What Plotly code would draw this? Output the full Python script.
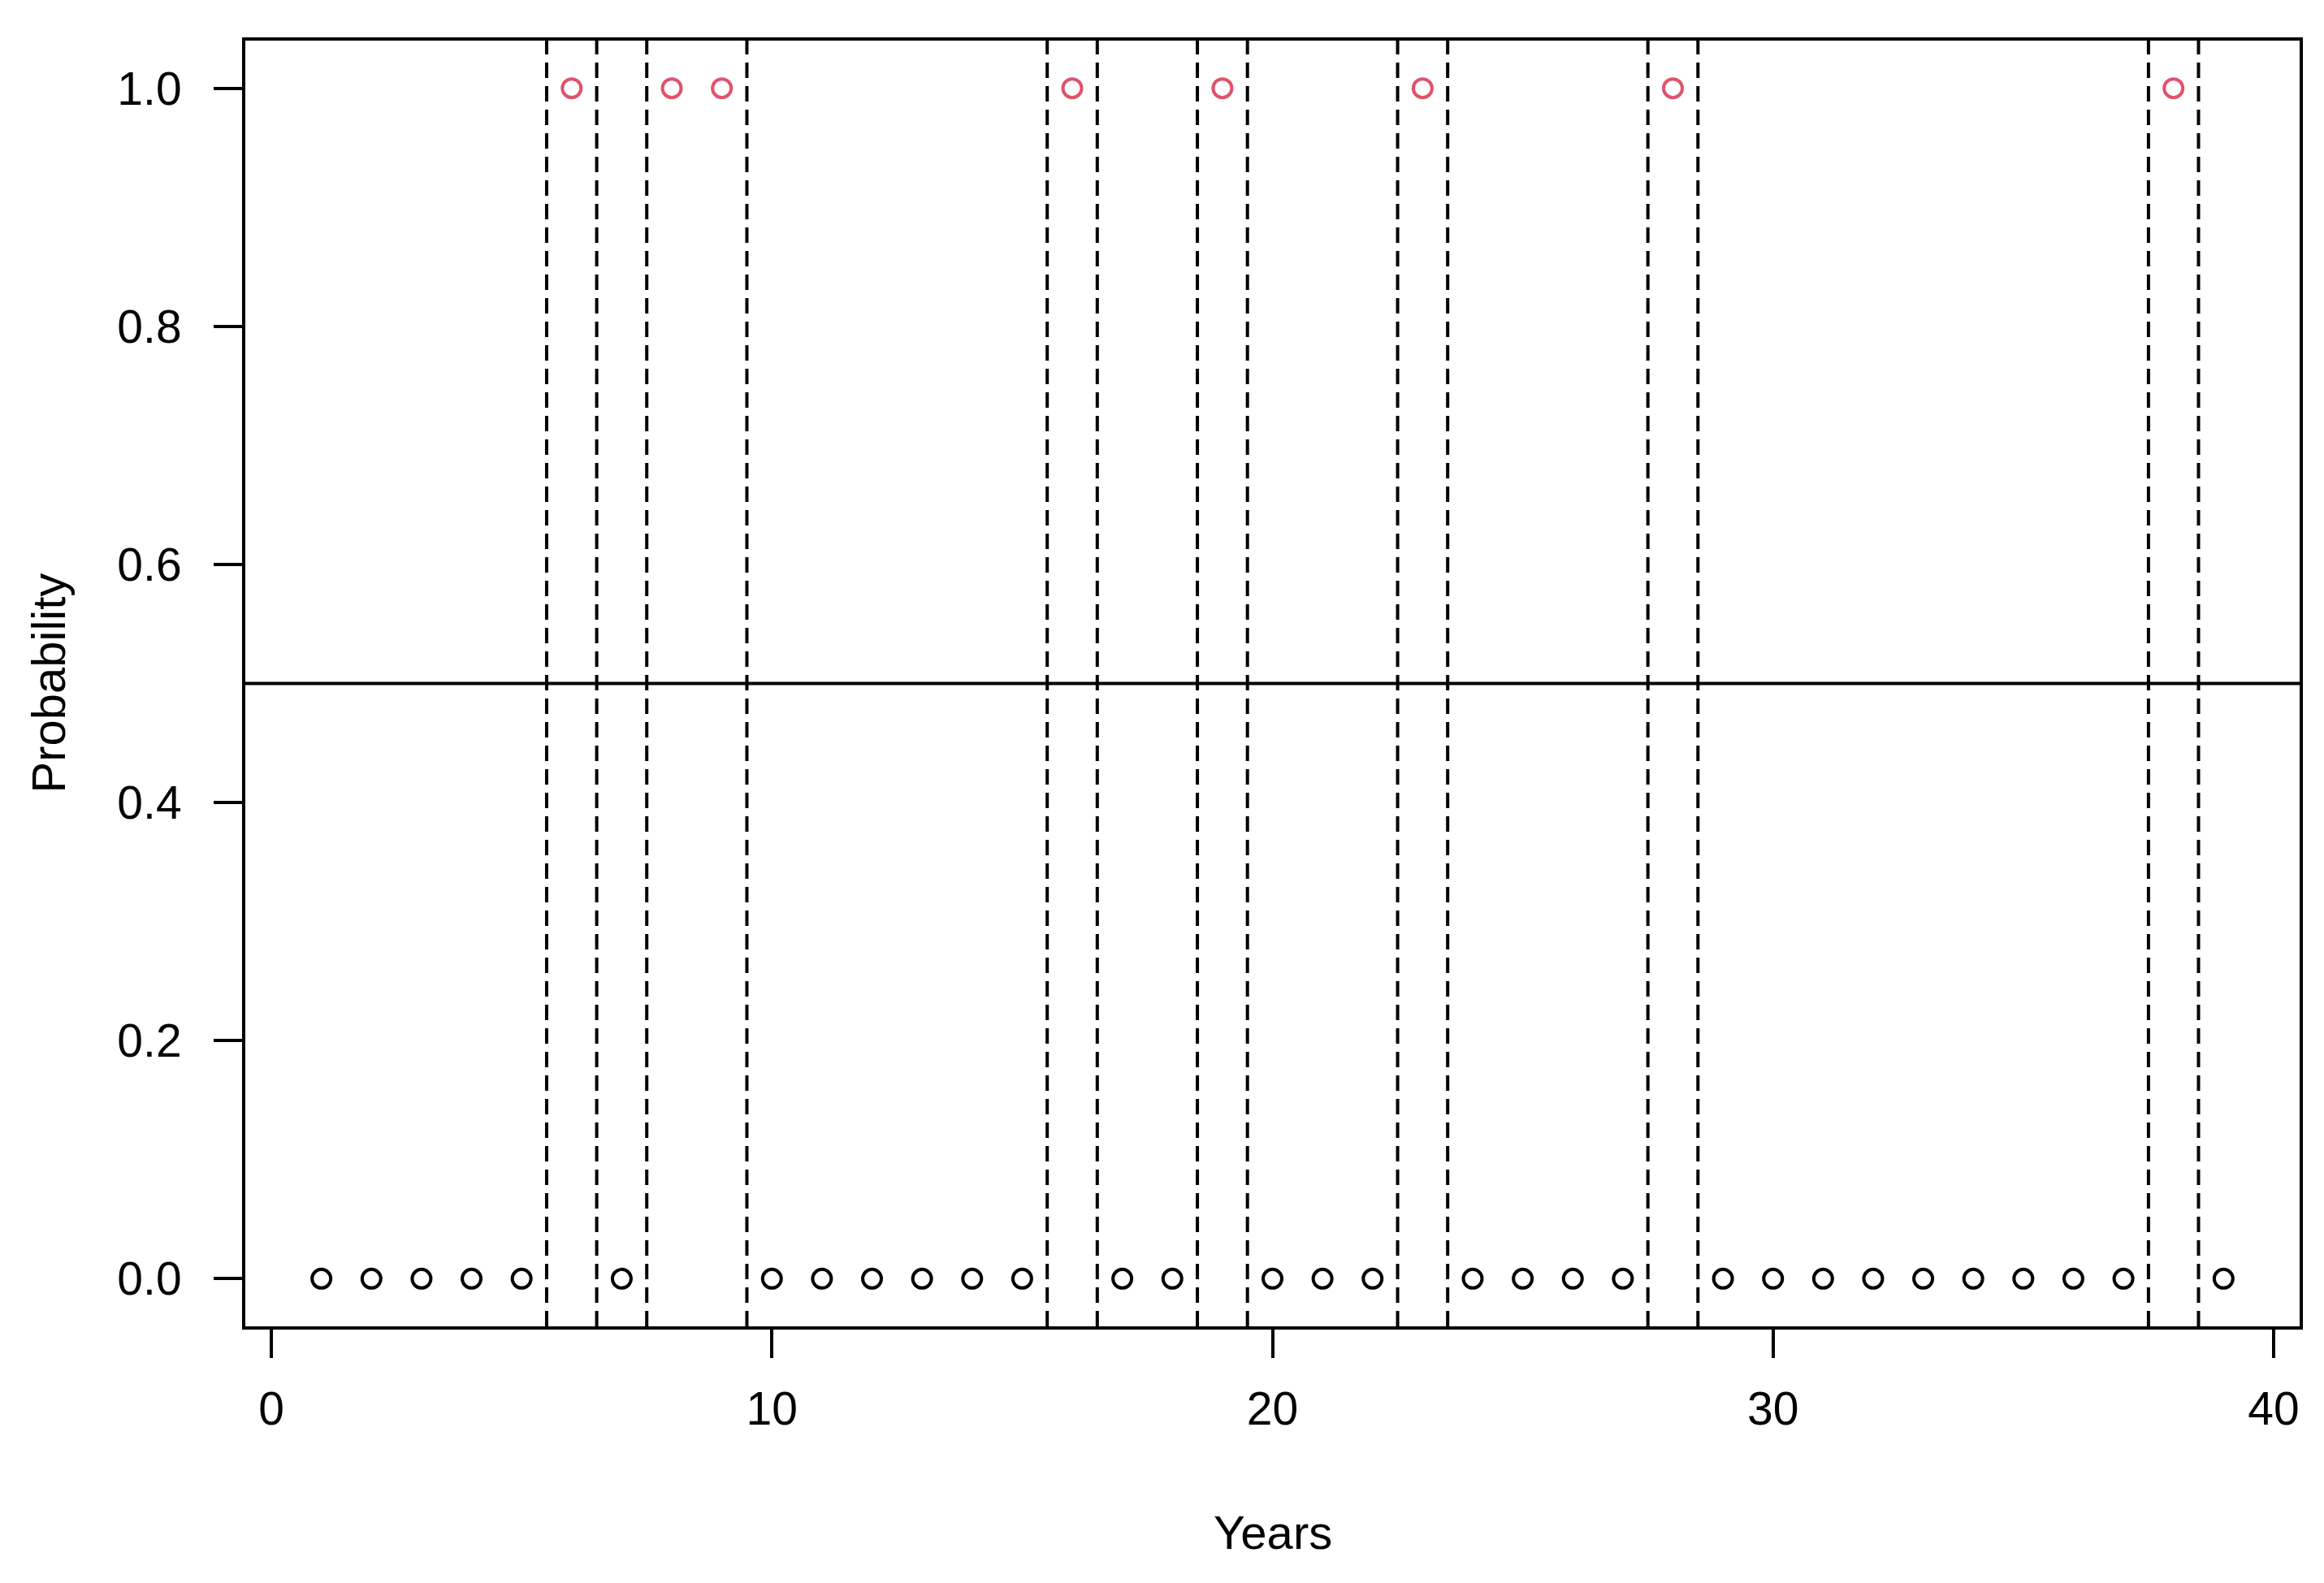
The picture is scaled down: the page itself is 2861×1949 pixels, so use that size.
import plotly.graph_objects as go

years = list(range(1, 40))
outcome = [0, 0, 0, 0, 0, 1, 0, 1, 1, 0,
           0, 0, 0, 0, 0, 1, 0, 0, 1, 0,
           0, 0, 1, 0, 0, 0, 0, 1, 0, 0,
           0, 0, 0, 0, 0, 0, 0, 1, 0]
boundaries = [5.5, 6.5, 7.5, 9.5, 15.5, 16.5, 18.5, 19.5, 22.5, 23.5, 27.5, 28.5, 37.5, 38.5]
threshold = 0.5
x_ticks = [0, 10, 20, 30, 40]
y_ticks = [0.0, 0.2, 0.4, 0.6, 0.8, 1.0]

RED = "#DF536B"
FONT = "Liberation Sans, Arial, sans-serif"

colors = [RED if v == 1 else "black" for v in outcome]

fig = go.Figure()
fig.add_trace(go.Scatter(
    x=years, y=outcome, mode="markers",
    marker=dict(symbol="circle-open", size=23, color=colors,
                line=dict(width=4, color=colors)),
    showlegend=False, hoverinfo="x+y",
))

for b in boundaries:
    fig.add_shape(type="line", x0=b, x1=b, y0=0, y1=1, xref="x", yref="paper",
                  line=dict(color="black", width=4, dash="19px,10px"), layer="above")
fig.add_shape(type="line", x0=0, x1=1, y0=threshold, y1=threshold, xref="paper", yref="y",
              line=dict(color="black", width=4), layer="above")

axis_common = dict(showline=True, linecolor="black", linewidth=4, mirror=True,
                   ticks="outside", ticklen=35, tickwidth=3.5, tickcolor="black",
                   showgrid=False, zeroline=False,
                   tickfont=dict(family=FONT, size=57, color="black"))

fig.update_xaxes(range=[-0.52, 40.52], tickvals=x_ticks, ticktext=[str(t) for t in x_ticks],
                 ticklabelstandoff=14, **axis_common)
fig.update_yaxes(range=[-0.04, 1.04], tickvals=y_ticks, ticktext=[f"{t:.1f}" for t in y_ticks],
                 ticklabelstandoff=28, **axis_common)

fig.add_annotation(text="Years", xref="paper", yref="paper", x=0.5, y=0,
                   xanchor="center", yanchor="middle", yshift=-253, showarrow=False,
                   font=dict(family=FONT, size=58, color="black"))
fig.add_annotation(text="Probability", xref="paper", yref="paper", x=0, y=0.5,
                   xanchor="center", yanchor="middle", xshift=-243, textangle=-90,
                   showarrow=False, font=dict(family=FONT, size=58, color="black"))

# page body has an 8px default margin; compensate so the plot box lands in place
fig.update_layout(width=2845, height=1933, plot_bgcolor="white", paper_bgcolor="white",
                  margin=dict(l=294, r=22, t=42, b=308), font=dict(family=FONT))

fig.write_html("out.html")
